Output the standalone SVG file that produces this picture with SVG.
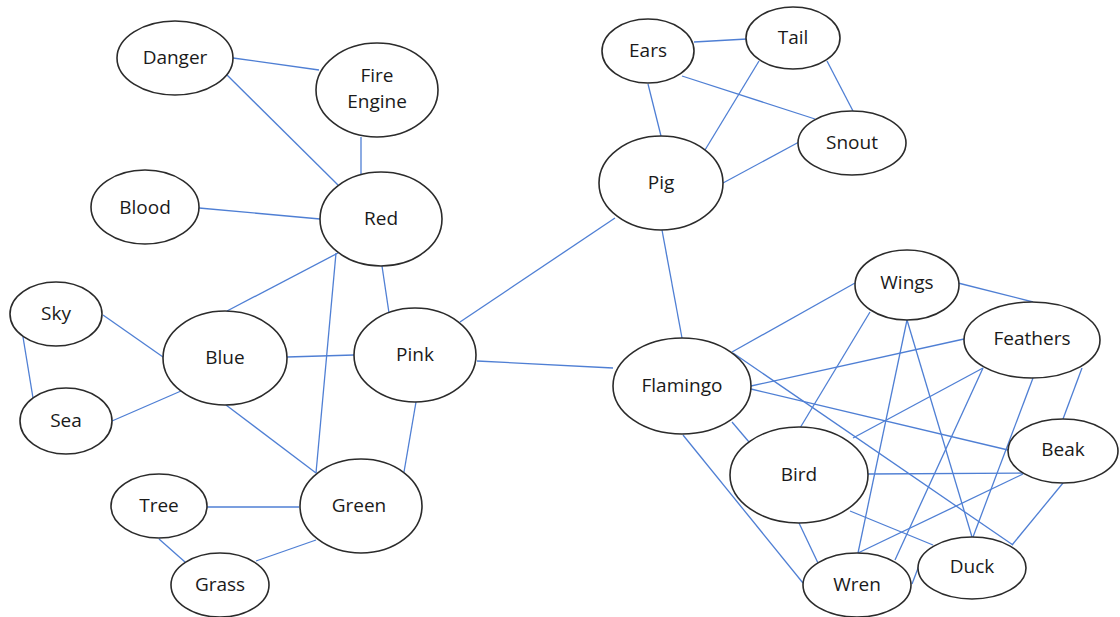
<svg xmlns="http://www.w3.org/2000/svg" width="1120" height="617" viewBox="0 0 1120 617">
<style>
.e{fill:#fff;stroke:#2b2b2b;stroke-width:1.6}
.t{font-family:"Open Sans","Liberation Sans",sans-serif;font-size:19px;fill:#1a1a1a;text-anchor:middle}
#edges line{stroke:#4F7FD4;stroke-width:1.3}
</style>
<rect width="1120" height="617" fill="#fff"/>
<g id="edges">
<line x1="233" y1="58" x2="319" y2="70"/>
<line x1="227" y1="75" x2="338" y2="185"/>
<line x1="361" y1="137" x2="361" y2="174"/>
<line x1="199" y1="208" x2="320" y2="219"/>
<line x1="338" y1="253" x2="227" y2="311"/>
<line x1="336" y1="253" x2="316" y2="473"/>
<line x1="382" y1="266" x2="389" y2="313"/>
<line x1="23" y1="337" x2="33" y2="398"/>
<line x1="103" y1="315" x2="163" y2="357"/>
<line x1="112" y1="421" x2="181" y2="391"/>
<line x1="287" y1="357" x2="354" y2="355"/>
<line x1="226" y1="405" x2="316" y2="473"/>
<line x1="416" y1="402" x2="404" y2="472"/>
<line x1="207" y1="507" x2="299" y2="507"/>
<line x1="159" y1="539" x2="185" y2="562"/>
<line x1="256" y1="561" x2="316" y2="540"/>
<line x1="460" y1="322" x2="615" y2="218"/>
<line x1="477" y1="361" x2="613" y2="368"/>
<line x1="694" y1="42" x2="747" y2="39"/>
<line x1="682" y1="76" x2="815" y2="119"/>
<line x1="648" y1="84" x2="661" y2="136"/>
<line x1="759" y1="61" x2="705" y2="150"/>
<line x1="827" y1="61" x2="853" y2="111"/>
<line x1="723" y1="183" x2="799" y2="142"/>
<line x1="662" y1="230" x2="682" y2="338"/>
<line x1="732" y1="352" x2="855" y2="283"/>
<line x1="958" y1="283" x2="1033" y2="302"/>
<line x1="751" y1="386" x2="964" y2="339"/>
<line x1="751" y1="389" x2="1008" y2="450"/>
<line x1="733" y1="353" x2="1013" y2="545"/>
<line x1="732" y1="422" x2="749" y2="442"/>
<line x1="683" y1="435" x2="803" y2="583"/>
<line x1="870" y1="312" x2="800" y2="428"/>
<line x1="907" y1="320" x2="858" y2="553"/>
<line x1="907" y1="320" x2="972" y2="537"/>
<line x1="983" y1="368" x2="853" y2="438"/>
<line x1="983" y1="368" x2="895" y2="560"/>
<line x1="1033" y1="378" x2="973" y2="537"/>
<line x1="1082" y1="368" x2="1063" y2="419"/>
<line x1="868" y1="474" x2="1023" y2="473"/>
<line x1="858" y1="553" x2="1023" y2="474"/>
<line x1="799" y1="523" x2="818" y2="563"/>
<line x1="850" y1="511" x2="933" y2="545"/>
<line x1="1063" y1="483" x2="1012" y2="545"/>
<line x1="912" y1="584" x2="920" y2="563"/>
</g>
<g id="n-danger"><ellipse class="e" cx="175" cy="58" rx="58" ry="37"/><text class="t" x="175" y="64">Danger</text></g>
<g id="n-fireengine"><ellipse class="e" cx="377" cy="90" rx="61" ry="47"/><text class="t" x="377" y="82">Fire</text><text class="t" x="377" y="108">Engine</text></g>
<g id="n-blood"><ellipse class="e" cx="145" cy="207" rx="54" ry="37"/><text class="t" x="145" y="214">Blood</text></g>
<g id="n-red"><ellipse class="e" cx="381" cy="219" rx="61" ry="47"/><text class="t" x="381" y="225">Red</text></g>
<g id="n-sky"><ellipse class="e" cx="56" cy="314" rx="46" ry="32"/><text class="t" x="56" y="320">Sky</text></g>
<g id="n-sea"><ellipse class="e" cx="66" cy="421" rx="46" ry="33"/><text class="t" x="66" y="427">Sea</text></g>
<g id="n-blue"><ellipse class="e" cx="225" cy="358" rx="62" ry="47"/><text class="t" x="225" y="364">Blue</text></g>
<g id="n-pink"><ellipse class="e" cx="415" cy="355" rx="61" ry="47"/><text class="t" x="415" y="361">Pink</text></g>
<g id="n-tree"><ellipse class="e" cx="159" cy="506" rx="48" ry="32"/><text class="t" x="159" y="512">Tree</text></g>
<g id="n-green"><ellipse class="e" cx="361" cy="506" rx="61" ry="47"/><text class="t" x="359" y="512">Green</text></g>
<g id="n-grass"><ellipse class="e" cx="220" cy="585" rx="49" ry="32"/><text class="t" x="220" y="591">Grass</text></g>
<g id="n-ears"><ellipse class="e" cx="648" cy="51" rx="46" ry="32"/><text class="t" x="648" y="57">Ears</text></g>
<g id="n-tail"><ellipse class="e" cx="793" cy="38" rx="47" ry="31"/><text class="t" x="793" y="44">Tail</text></g>
<g id="n-snout"><ellipse class="e" cx="852" cy="143" rx="54" ry="32"/><text class="t" x="852" y="149">Snout</text></g>
<g id="n-pig"><ellipse class="e" cx="661" cy="183" rx="62" ry="47"/><text class="t" x="661" y="189">Pig</text></g>
<g id="n-wings"><ellipse class="e" cx="907" cy="285" rx="52" ry="35"/><text class="t" x="907" y="289">Wings</text></g>
<g id="n-feathers"><ellipse class="e" cx="1032" cy="340" rx="68" ry="38"/><text class="t" x="1032" y="345">Feathers</text></g>
<g id="n-flamingo"><ellipse class="e" cx="682" cy="386" rx="69" ry="48"/><text class="t" x="682" y="392">Flamingo</text></g>
<g id="n-beak"><ellipse class="e" cx="1063" cy="451" rx="55" ry="32"/><text class="t" x="1063" y="456">Beak</text></g>
<g id="n-bird"><ellipse class="e" cx="799" cy="475" rx="69" ry="48"/><text class="t" x="799" y="481">Bird</text></g>
<g id="n-wren"><ellipse class="e" cx="857" cy="585" rx="54" ry="32"/><text class="t" x="857" y="591">Wren</text></g>
<g id="n-duck"><ellipse class="e" cx="972" cy="568" rx="54" ry="31"/><text class="t" x="972" y="573">Duck</text></g>
</svg>
